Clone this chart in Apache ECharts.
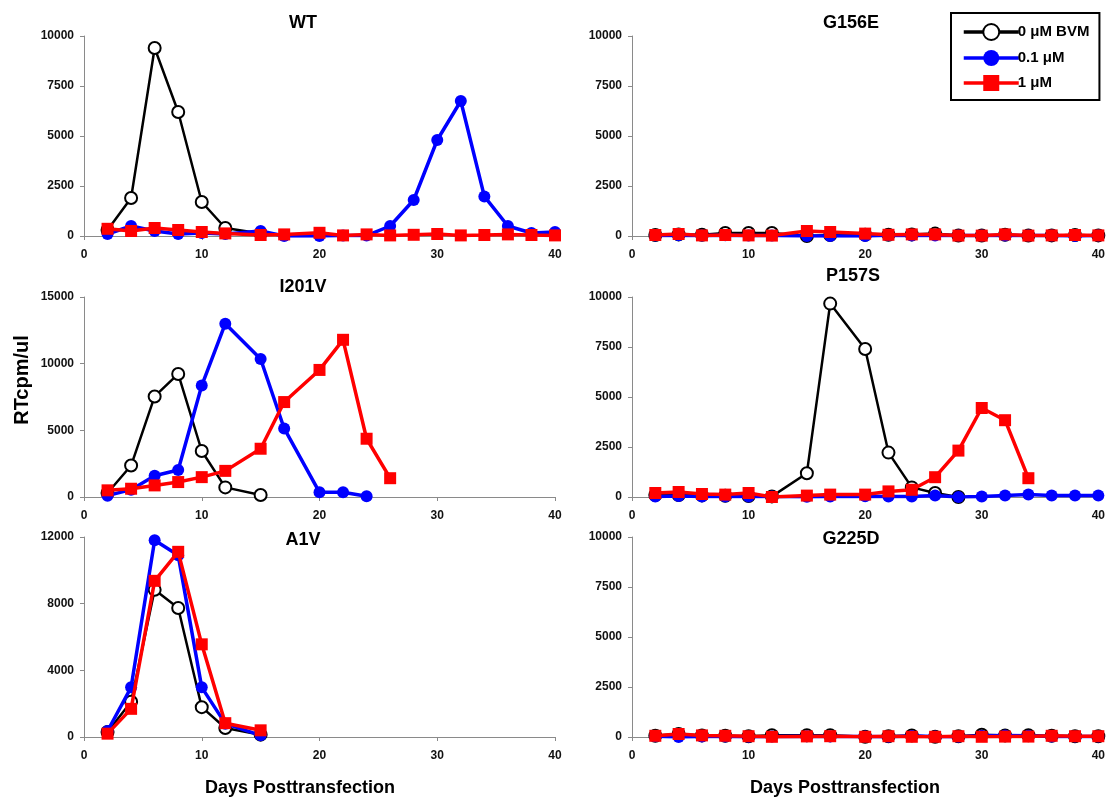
<!DOCTYPE html>
<html><head><meta charset="utf-8">
<script src="https://cdn.jsdelivr.net/npm/echarts@6/dist/echarts.min.js"></script>
<style>html,body{margin:0;padding:0;background:#fff}#c{width:1108px;height:801px}</style>
</head><body><div id="c"></div>
<script>
const days = [2,4,6,8,10,12,15,17,20,22,24,26,28,30,32,34,36,38,40];
const seriesNames = ['0 μM BVM','0.1 μM','1 μM'];
const panelTitles = ['WT','G156E','I201V','P157S','A1V','G225D'];
const yTicks = {
  WT:[0,2500,5000,7500,10000], G156E:[0,2500,5000,7500,10000],
  I201V:[0,5000,10000,15000], P157S:[0,2500,5000,7500,10000],
  A1V:[0,4000,8000,12000], G225D:[0,2500,5000,7500,10000]
};
const xTicks = [0,10,20,30,40];

// WT
const wt_0  = [300,1900,9400,6200,1700,400,120];
const wt_01 = [100,500,250,100,150,100,250,0,0,20,20,500,1800,4800,6750,1980,500,150,200];
const wt_1  = [360,250,400,300,200,130,50,80,160,30,80,30,60,100,30,50,80,50,30];
// G156E
const g156e_0  = [50,80,60,150,150,150,0,50,60,60,80,120,20,20,60,20,30,50,30];
const g156e_01 = [20,40,30,40,30,30,0,0,0,40,20,30,30,20,30,20,30,0,20];
const g156e_1  = [50,100,30,50,30,20,250,200,120,60,80,80,20,20,80,20,30,50,30];
// I201V
const i201v_0  = [300,2360,7540,9230,3450,720,150];
const i201v_01 = [100,550,1590,2030,8360,13000,10350,5140,350,350,50];
const i201v_1  = [500,620,870,1120,1490,1960,3620,7120,9530,11790,4370,1410];
// P157S
const p157s_0  = [100,100,80,60,50,30,1190,9670,7400,2220,480,200,0];
const p157s_01 = [20,50,20,20,30,20,10,30,40,20,20,70,0,30,80,120,70,70,70];
const p157s_1  = [200,250,150,120,200,0,70,120,120,280,360,990,2320,4450,3840,940];
// A1V
const a1v_0  = [300,2120,8830,7740,1790,540,140];
const a1v_01 = [360,2980,11800,10900,2980,800,100];
const a1v_1  = [200,1690,9370,11110,5560,830,400];
// G225D
const g225d_0  = [60,150,80,60,40,90,90,90,10,40,80,10,40,110,80,90,60,40,40];
const g225d_01 = [40,0,20,30,10,20,40,30,20,10,50,20,10,60,80,60,20,30,20];
const g225d_1  = [60,150,80,60,40,10,30,40,10,40,10,10,40,10,20,20,60,40,40];

const panelData = [
  [wt_0, wt_01, wt_1],
  [g156e_0, g156e_01, g156e_1],
  [i201v_0, i201v_01, i201v_1],
  [p157s_0, p157s_01, p157s_1],
  [a1v_0, a1v_01, a1v_1],
  [g225d_0, g225d_01, g225d_1]
];

const FONT = '"Liberation Sans", Arial, sans-serif';
const lefts = [84, 632];
const widths = [471, 468];
const tops = [36, 297, 537];
const titlePos = [[298,9],[846,9],[298,273],[848,262],[298,526],[846,525]];

const grids = [], xAxes = [], yAxes = [], series = [], titles = [];
const styles = [
  {color:'#000', symbol:'emptyCircle', size:12, lw:2.5},
  {color:'#0000ff', symbol:'circle', size:12, lw:3.5},
  {color:'#ff0000', symbol:'rect', size:12, lw:3.5}
];
const fmt = v => String(v);
for (let p = 0; p < 6; p++) {
  const col = p % 2, row = Math.floor(p / 2);
  grids.push({left: lefts[col], top: tops[row], width: widths[col], height: 200, containLabel:false});
  const yt = yTicks[panelTitles[p]];
  const axisCommon = {
    axisLine:{show:true, onZero:false, lineStyle:{color:'#8a8a8a', width:1}},
    axisTick:{show:true, length:4, lineStyle:{color:'#8a8a8a'}},
    splitLine:{show:false}
  };
  const lbl = {color:'#111', fontFamily:FONT, fontWeight:'bold', fontSize:12, formatter:fmt};
  xAxes.push(Object.assign({gridIndex:p, type:'value', min:xTicks[0], max:xTicks[xTicks.length-1], interval:xTicks[1]-xTicks[0]}, axisCommon,
    {axisLabel:Object.assign({}, lbl, {margin:13})}));
  yAxes.push(Object.assign({gridIndex:p, type:'value', min:yt[0], max:yt[yt.length-1], interval:yt[1]-yt[0]}, axisCommon,
    {axisLabel:Object.assign({}, lbl, {margin:10})}));
  titles.push({text:panelTitles[p], left:titlePos[p][0], top:titlePos[p][1], textAlign:'center',
    textStyle:{fontFamily:FONT, fontWeight:'bold', fontSize:18, color:'#000'}});
  for (let s = 0; s < 3; s++) {
    const st = styles[s];
    const vals = panelData[p][s];
    series.push({
      name: seriesNames[s], type:'line', xAxisIndex:p, yAxisIndex:p,
      data: vals.map((v,i)=>[days[i], v]),
      symbol: st.symbol, symbolSize: st.size,
      lineStyle:{color:st.color, width:st.lw},
      itemStyle: s===0 ? {color:'#000', borderWidth:2.5} : {color:st.color},
      emphasis:{disabled:true}, animation:false, z: 2+s
    });
  }
}

const chart = echarts.init(document.getElementById('c'), null, {renderer:'canvas'});
chart.setOption({
  backgroundColor:'#fff',
  animation:false,
  title: titles,
  grid: grids, xAxis: xAxes, yAxis: yAxes, series: series,
  legend:{
    orient:'vertical', left:951, top:13, data:seriesNames,
    backgroundColor:'#fff', borderColor:'#000', borderWidth:2,
    padding:[10,10,9,11], itemGap:9, itemWidth:55, itemHeight:20,
    lineStyle:{width:3.5},
    textStyle:{fontFamily:FONT, fontWeight:'bold', fontSize:15, color:'#000', padding:[0,0,0,-6]}
  },
  graphic:[
    {type:'text', x:22, y:380, rotation:Math.PI/2, style:{text:'RTcpm/ul', font:'bold 20px '+FONT, fill:'#000', textAlign:'center', textVerticalAlign:'middle'}},
    {type:'text', x:300, y:788, style:{text:'Days Posttransfection', font:'bold 18px '+FONT, fill:'#000', textAlign:'center', textVerticalAlign:'middle'}},
    {type:'text', x:845, y:788, style:{text:'Days Posttransfection', font:'bold 18px '+FONT, fill:'#000', textAlign:'center', textVerticalAlign:'middle'}}
  ]
});
</script></body></html>
